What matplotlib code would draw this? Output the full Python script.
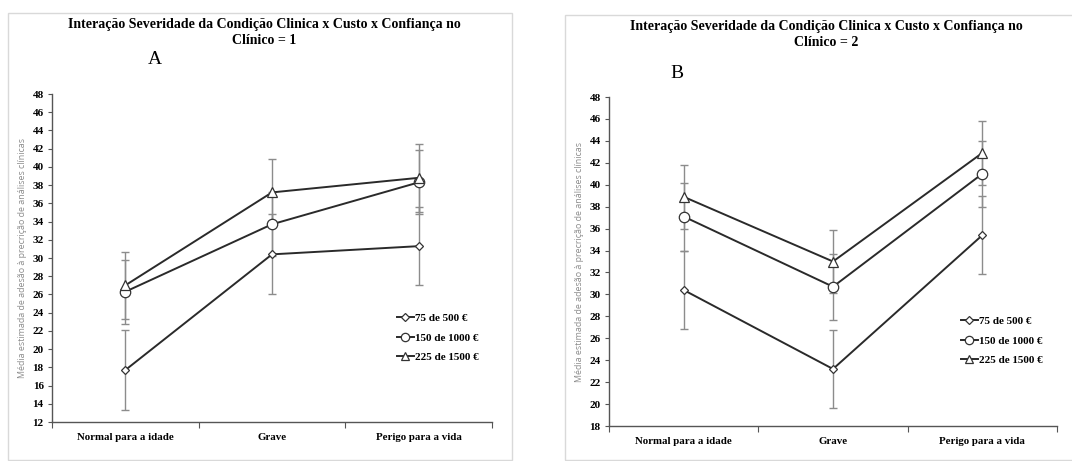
import matplotlib
matplotlib.use("Agg")
import matplotlib.pyplot as plt
from matplotlib.patches import Rectangle

categories = ["Normal para a idade", "Grave", "Perigo para a vida"]
series_names = ["75 de 500 €", "150 de 1000 €", "225 de 1500 €"]

# Panel A (Confiança no Clínico = 1)
a_75 = [17.7, 30.4, 31.3]
a_75_err = [4.4, 4.4, 4.3]
a_150 = [26.3, 33.7, 38.3]
a_150_err = [3.5, 3.5, 3.5]
a_225 = [27.0, 37.2, 38.8]
a_225_err = [3.7, 3.7, 3.7]

# Panel B (Confiança no Clínico = 2)
b_75 = [30.4, 23.2, 35.4]
b_75_err = [3.6, 3.55, 3.55]
b_150 = [37.1, 30.7, 41.0]
b_150_err = [3.1, 3.0, 3.0]
b_225 = [38.9, 33.0, 42.9]
b_225_err = [2.9, 2.9, 2.9]

W, H = 1072, 461
fig = plt.figure(figsize=(W / 100, H / 100), dpi=100)
fig.patch.set_facecolor("white")

serif = ["Liberation Serif", "DejaVu Serif"]

def px(x0, y0, x1, y1):
    return [x0 / W, 1 - y1 / H, (x1 - x0) / W, (y1 - y0) / H]

# panel frames
for (x0, y0, x1, y1) in [(8, 13, 512, 460), (565, 15, 1080, 460)]:
    fig.patches.append(Rectangle((x0 / W, 1 - y1 / H), (x1 - x0) / W, (y1 - y0) / H,
                                 transform=fig.transFigure, fill=False,
                                 edgecolor="#d9d9d9", linewidth=1.0))

markers = ["D", "o", "^"]
msizes = [4.5, 7.5, 6.5]
line_col = "#2a2a2a"
err_col = "#8c8c8c"

def draw_panel(rect, data, ylim, yticks, title, letter, letter_pos, title_x, title_y, legend_pos):
    ax = fig.add_axes(rect)
    x = [0.5, 1.5, 2.5]
    for (vals, errs) in data:
        ax.errorbar(x, vals, yerr=errs, fmt="none", ecolor=err_col, elinewidth=1.0,
                    capsize=3, capthick=1.0, zorder=2)
    handles = []
    for (vals, errs), m, ms, name in zip(data, markers, msizes, series_names):
        ln, = ax.plot(x, vals, color=line_col, linewidth=1.4, marker=m, markersize=ms,
                      markerfacecolor="white", markeredgecolor="#333333",
                      markeredgewidth=0.9, zorder=3, label=name)
        handles.append(ln)
    ax.set_xlim(0, 3)
    ax.set_ylim(*ylim)
    ax.set_yticks(yticks)
    ax.set_yticklabels([str(v) for v in yticks], fontfamily=serif, fontweight="bold", fontsize=8)
    ax.set_xticks([0, 1, 2, 3])
    ax.set_xticklabels([])
    ax.set_xticks(x, minor=True)
    ax.set_xticklabels(categories, minor=True, fontfamily=serif, fontweight="bold", fontsize=7.8)
    ax.tick_params(axis="x", which="minor", length=0, pad=8)
    ax.tick_params(axis="x", which="major", length=4, width=0.8, color="#555555", direction="out")
    ax.tick_params(axis="y", length=3, width=0.8, color="#555555", direction="out", pad=3)
    for s in ["top", "right"]:
        ax.spines[s].set_visible(False)
    for s in ["left", "bottom"]:
        ax.spines[s].set_color("#555555")
        ax.spines[s].set_linewidth(1.0)
    ax.set_ylabel("Média estimada de adesão à precrição de análises clínicas",
                  fontsize=6.4, color="#8c8c8c", fontfamily=["Open Sans", "DejaVu Sans"], labelpad=4)
    ax.patch.set_alpha(0)
    fig.text(title_x / W, 1 - title_y / H, title, ha="center", va="top",
             fontfamily=serif, fontweight="bold", fontsize=10, linespacing=1.3)
    fig.text(letter_pos[0] / W, 1 - letter_pos[1] / H, letter, ha="center", va="center",
             fontfamily=serif, fontsize=14)
    ax.legend(handles=handles, loc="upper left",
              bbox_to_anchor=(legend_pos[0] / W, 1 - legend_pos[1] / H),
              bbox_transform=fig.transFigure, frameon=False,
              prop={"family": serif, "weight": "bold", "size": 8},
              handlelength=1.5, handletextpad=0.1, labelspacing=0.9,
              markerscale=0.8, borderaxespad=0, borderpad=0)
    return ax

draw_panel(px(52, 94, 492, 422),
           [(a_75, a_75_err), (a_150, a_150_err), (a_225, a_225_err)],
           (12, 48), list(range(12, 49, 2)),
           "Interação Severidade da Condição Clinica x Custo x Confiança no\nClínico = 1",
           "A", (155, 60), 264, 18, (397, 313))

draw_panel(px(609, 97, 1057, 426),
           [(b_75, b_75_err), (b_150, b_150_err), (b_225, b_225_err)],
           (18, 48), list(range(18, 49, 2)),
           "Interação Severidade da Condição Clinica x Custo x Confiança no\nClínico = 2",
           "B", (677, 73), 826, 20, (961, 316))

fig.savefig("out.png", dpi=100, facecolor="white")
